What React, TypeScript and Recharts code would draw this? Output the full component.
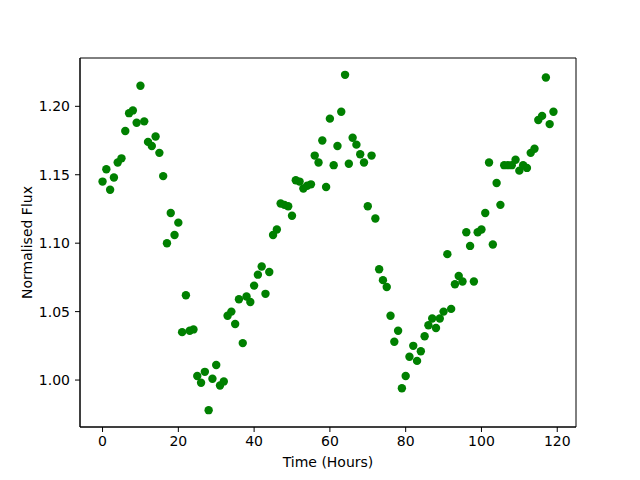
import {
  ScatterChart,
  Scatter,
  XAxis,
  YAxis,
  ReferenceArea,
} from 'recharts';

// Observation times (hours)
const hours = [
  0, 1, 2, 3, 4, 5, 6, 7, 8, 9, 10, 11, 12, 13, 14, 15, 16, 17, 18, 19,
  20, 21, 22, 23, 24, 25, 26, 27, 28, 29, 30, 31, 32, 33, 34, 35, 36, 37, 38, 39,
  40, 41, 42, 43, 44, 45, 46, 47, 48, 49, 50, 51, 52, 53, 54, 55, 56, 57, 58, 59,
  60, 61, 62, 63, 64, 65, 66, 67, 68, 69, 70, 71, 72, 73, 74, 75, 76, 77, 78, 79,
  80, 81, 82, 83, 84, 85, 86, 87, 88, 89, 90, 91, 92, 93, 94, 95, 96, 97, 98, 99,
  100, 101, 102, 103, 104, 105, 106, 107, 108, 109, 110, 111, 112, 113, 114, 115, 116, 117, 118, 119,
];

// Normalised flux
const flux = [
  1.145, 1.154, 1.139, 1.148, 1.159, 1.162, 1.182, 1.195, 1.197, 1.188,
  1.215, 1.189, 1.174, 1.171, 1.178, 1.166, 1.149, 1.1, 1.122, 1.106,
  1.115, 1.035, 1.062, 1.036, 1.037, 1.003, 0.998, 1.006, 0.978, 1.001,
  1.011, 0.996, 0.999, 1.047, 1.05, 1.041, 1.059, 1.027, 1.061, 1.057,
  1.069, 1.077, 1.083, 1.063, 1.079, 1.106, 1.11, 1.129, 1.128, 1.127,
  1.12, 1.146, 1.145, 1.14, 1.142, 1.143, 1.164, 1.159, 1.175, 1.141,
  1.191, 1.157, 1.171, 1.196, 1.223, 1.158, 1.177, 1.172, 1.165, 1.159,
  1.127, 1.164, 1.118, 1.081, 1.073, 1.068, 1.047, 1.028, 1.036, 0.994,
  1.003, 1.017, 1.025, 1.014, 1.021, 1.032, 1.04, 1.045, 1.038, 1.045,
  1.05, 1.092, 1.052, 1.07, 1.076, 1.072, 1.108, 1.098, 1.072, 1.108,
  1.11, 1.122, 1.159, 1.099, 1.144, 1.128, 1.157, 1.157, 1.157, 1.161,
  1.153, 1.157, 1.155, 1.166, 1.169, 1.19, 1.193, 1.221, 1.187, 1.196,
];

const xTicks = [0, 20, 40, 60, 80, 100, 120];
const yTicks = [1.0, 1.05, 1.1, 1.15, 1.2];

const X_DOMAIN: [number, number] = [-5.95, 124.95];
const Y_DOMAIN: [number, number] = [0.9657, 1.2353];

const FONT = '"DejaVu Sans", sans-serif';

const Dot = (props: any) => (
  <circle cx={props.cx} cy={props.cy} r={4.2} fill="#008000" />
);

export default function App() {
  const data = hours.map((t, i) => ({ t, flux: flux[i] }));

  return (
    <div style={{ position: 'absolute', left: 0, top: 0, background: '#fff' }}>
      <ScatterChart
        width={640}
        height={480}
        margin={{ top: 58, right: 64, bottom: 0, left: 0 }}
        style={{ fontFamily: FONT }}
      >
        <XAxis
          type="number"
          dataKey="t"
          domain={X_DOMAIN}
          ticks={xTicks}
          allowDataOverflow
          height={53}
          stroke="#000"
          tickSize={5}
          tickMargin={4}
          tick={{ fill: '#000', fontSize: 14, fontFamily: FONT }}
          label={{
            value: 'Time (Hours)',
            position: 'insideBottom',
            offset: 13,
            fill: '#000',
            fontSize: 14,
            fontFamily: FONT,
          }}
        />
        <YAxis
          type="number"
          dataKey="flux"
          domain={Y_DOMAIN}
          ticks={yTicks}
          allowDataOverflow
          width={80}
          stroke="#000"
          tickSize={5}
          tickMargin={5}
          tickFormatter={(v: number) => v.toFixed(2)}
          tick={{ fill: '#000', fontSize: 14, fontFamily: FONT }}
          label={{
            value: 'Normalised Flux',
            angle: -90,
            position: 'insideLeft',
            offset: 27,
            fill: '#000',
            fontSize: 14,
            fontFamily: FONT,
            style: { textAnchor: 'middle' },
          }}
        />
        <ReferenceArea
          x1={X_DOMAIN[0]}
          x2={X_DOMAIN[1]}
          y1={Y_DOMAIN[0]}
          y2={Y_DOMAIN[1]}
          fill="none"
          stroke="#000"
          strokeWidth={1}
        />
        <Scatter data={data} shape={Dot} isAnimationActive={false} />
      </ScatterChart>
    </div>
  );
}
